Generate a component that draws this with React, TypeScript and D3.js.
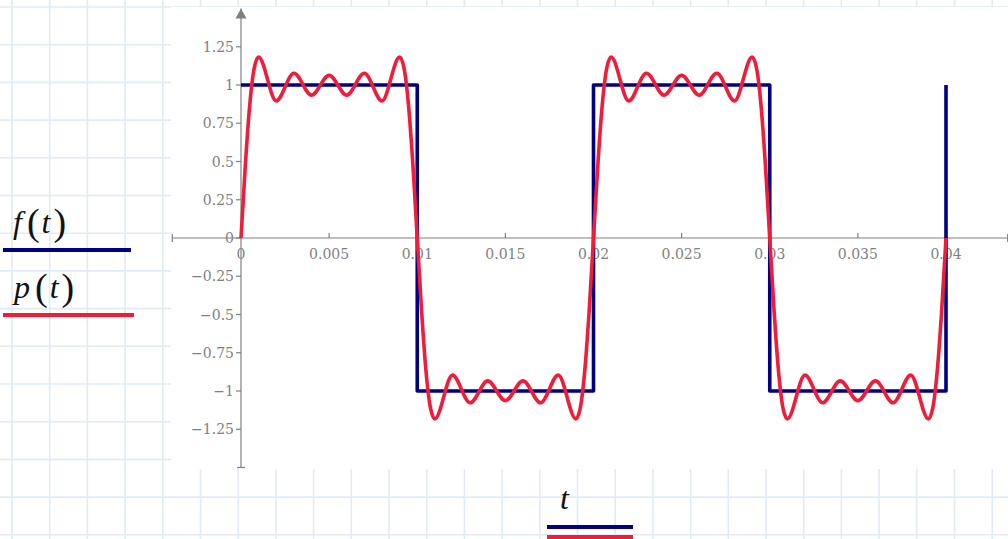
import React from "react";
import * as d3 from "d3";

// square wave f(t), corners
const fSamples: [number, number][] = [
  [0, 1], [0.01, 1], [0.01, -1], [0.02, -1], [0.02, 1],
  [0.03, 1], [0.03, -1], [0.04, -1], [0.04, 1],
];

// partial Fourier sum p(t): crossings, ripple peaks and troughs
const pSamples: [number, number][] = [
  [0, 0], [0.00025, 0.483], [0.0005, 0.874], [0.00075, 1.11], [0.001, 1.182],
  [0.002, 0.896], [0.003, 1.077], [0.004, 0.934], [0.005, 1.063], [0.006, 0.934],
  [0.007, 1.077], [0.008, 0.896], [0.009, 1.182], [0.00925, 1.11], [0.0095, 0.874], [0.00975, 0.483],
  [0.01, 0], [0.01025, -0.483], [0.0105, -0.874], [0.01075, -1.11], [0.011, -1.182],
  [0.012, -0.896], [0.013, -1.077], [0.014, -0.934], [0.015, -1.063], [0.016, -0.934],
  [0.017, -1.077], [0.018, -0.896], [0.019, -1.182], [0.01925, -1.11], [0.0195, -0.874], [0.01975, -0.483],
  [0.02, 0], [0.02025, 0.483], [0.0205, 0.874], [0.02075, 1.11], [0.021, 1.182],
  [0.022, 0.896], [0.023, 1.077], [0.024, 0.934], [0.025, 1.063], [0.026, 0.934],
  [0.027, 1.077], [0.028, 0.896], [0.029, 1.182], [0.02925, 1.11], [0.0295, 0.874], [0.02975, 0.483],
  [0.03, 0], [0.03025, -0.483], [0.0305, -0.874], [0.03075, -1.11], [0.031, -1.182],
  [0.032, -0.896], [0.033, -1.077], [0.034, -0.934], [0.035, -1.063], [0.036, -0.934],
  [0.037, -1.077], [0.038, -0.896], [0.039, -1.182], [0.03925, -1.11], [0.0395, -0.874], [0.03975, -0.483],
  [0.04, 0],
];

const xTicks = [0, 0.005, 0.01, 0.015, 0.02, 0.025, 0.03, 0.035, 0.04];
const xTickLabels = ["0", "0.005", "0.01", "0.015", "0.02", "0.025", "0.03", "0.035", "0.04"];
const yTicks = [1.25, 1, 0.75, 0.5, 0.25, 0, -0.25, -0.5, -0.75, -1, -1.25];
const yTickLabels = ["1.25", "1", "0.75", "0.5", "0.25", "0", "\u22120.25", "\u22120.5", "\u22120.75", "\u22121", "\u22121.25"];
const xAxisExtent = [-0.0039, 0.0435];
const yAxisExtent = [-1.5, 1.5];

const W = 1008;
const H = 539;
const BLUE = "#000080";
const RED = "#ee1d3a";
const AXIS = "#808080";

// math-style label: italic letters, taller upright parens
function MathLabel({ x, y, name }: { x: number; y: number; name: string }) {
  return (
    <text x={x} y={y}>
      <tspan fontStyle="italic" fontSize={32}>{name}</tspan>
      <tspan fontSize={38} dx={5} dy={2}>(</tspan>
      <tspan fontStyle="italic" fontSize={32} dx={2} dy={-2}>t</tspan>
      <tspan fontSize={38} dx={3} dy={2}>)</tspan>
    </text>
  );
}

export default function App() {
  const x = d3.scaleLinear().domain([0, 0.04]).range([241, 946]);
  const y = d3.scaleLinear().domain([-1, 1]).range([391, 85]);

  const fLine = d3.line<[number, number]>()
    .x(d => x(d[0]))
    .y(d => y(d[1]));
  const pLine = d3.line<[number, number]>()
    .x(d => x(d[0]))
    .y(d => y(d[1]))
    .curve(d3.curveMonotoneX);

  const gridStep = 37.7;
  const vGrid = d3.range(12, W, gridStep);
  const hGrid = d3.range(7, H, gridStep);

  const x0 = x(0), y0 = y(0);
  const ya = y(yAxisExtent[1]), yb = y(yAxisExtent[0]);
  const xa = x(xAxisExtent[0]), xb = x(xAxisExtent[1]);

  return (
    <svg width={W} height={H} style={{ position: "absolute", left: 0, top: 0 }}>
      <rect width={W} height={H} fill="#fff" />
      <g stroke="#e0ebf6" strokeWidth={1.6}>
        {vGrid.map(v => <line key={"v" + v} x1={v} x2={v} y1={0} y2={H} />)}
        {hGrid.map(v => <line key={"h" + v} x1={0} x2={W} y1={v} y2={v} />)}
      </g>
      <rect x={171} y={7} width={W - 171} height={462} fill="#fff" />

      {/* axes */}
      <g stroke={AXIS} strokeWidth={1.2} fill="none">
        <line x1={x0} x2={x0} y1={ya} y2={yb} />
        <line x1={x0 - 4} x2={x0 + 4} y1={yb} y2={yb} />
        <line x1={xa} x2={xb} y1={y0} y2={y0} />
        <line x1={xa} x2={xa} y1={y0 - 4} y2={y0 + 4} />
        <line x1={xb} x2={xb} y1={y0 - 4} y2={y0 + 4} />
        {yTicks.map(t => <line key={"yt" + t} x1={x0 - 5} x2={x0} y1={y(t)} y2={y(t)} />)}
        {xTicks.map(t => <line key={"xt" + t} x1={x(t)} x2={x(t)} y1={y0 - 5} y2={y0} />)}
      </g>
      <path d={`M${x0},${ya} l-5.5,10 h11 z`} fill={AXIS} />

      <g fontFamily="'DejaVu Serif', serif" fontSize={14} fill={AXIS}>
        {yTicks.map((t, i) => (
          <text key={"yl" + t} x={x0 - 7} y={y(t) + 5} textAnchor="end">{yTickLabels[i]}</text>
        ))}
        {xTicks.map((t, i) => (
          <text key={"xl" + t} x={x(t)} y={y0 + 21} textAnchor="middle">{xTickLabels[i]}</text>
        ))}
      </g>

      {/* traces */}
      <path d={fLine(fSamples) || ""} fill="none" stroke={BLUE} strokeWidth={3.6} strokeLinejoin="round" />
      <path d={pLine(pSamples) || ""} fill="none" stroke={RED} strokeWidth={3.6} strokeLinejoin="round" />

      {/* legend */}
      <g fontFamily="'Liberation Serif', serif" fill="#111">
        <MathLabel x={13} y={233} name="f" />
        <MathLabel x={14} y={298} name="p" />
        <text x={560} y={509} fontSize={32} fontStyle="italic">t</text>
      </g>
      <line x1={3} x2={131} y1={250} y2={250} stroke={BLUE} strokeWidth={4} />
      <line x1={3} x2={134} y1={315} y2={315} stroke={RED} strokeWidth={4} />
      <line x1={547} x2={633} y1={527} y2={527} stroke={BLUE} strokeWidth={4} />
      <line x1={547} x2={633} y1={537} y2={537} stroke={RED} strokeWidth={4} />
    </svg>
  );
}
